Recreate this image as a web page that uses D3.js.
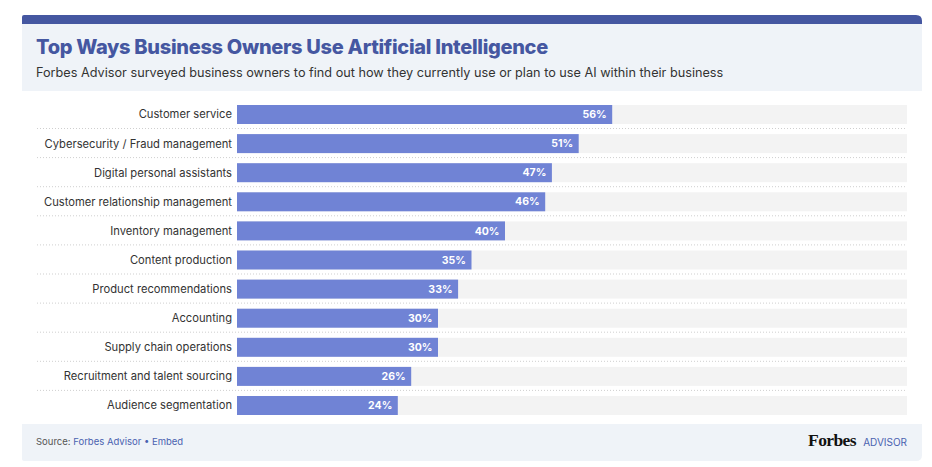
<!DOCTYPE html>
<html>
<head>
<meta charset="utf-8">
<script src="https://cdn.jsdelivr.net/npm/d3@7"></script>
<style>
  body { margin: 0; background: #fff; }
  svg { display: block; font-family: "Inter", "Lato", sans-serif; }
</style>
</head>
<body>
<svg id="chart"></svg>
<script>
let categories = [
    'Customer service',
    'Cybersecurity / Fraud management',
    'Digital personal assistants',
    'Customer relationship management',
    'Inventory management',
    'Content production',
    'Product recommendations',
    'Accounting',
    'Supply chain operations',
    'Recruitment and talent sourcing',
    'Audience segmentation',
]
let shares = [56, 51, 47, 46, 40, 35, 33, 30, 30, 26, 24]

let title = 'Top Ways Business Owners Use Artificial Intelligence'
let subtitle = 'Forbes Advisor surveyed business owners to find out how they currently use or plan to use AI within their business'

let opts = {
    width: 932,
    height: 467,
    left: 22,
    right: 922,
    barX0: 237,
    barX1: 907,
    barTop: 105,
    rowStep: 29.1,
    barH: 19,
    navy: '#4557a1',
    pale: '#eff3f8',
    bar: '#7083d5',
    track: '#f3f3f3',
}

let svg = d3.select('#chart')
    .attr('width', opts.width)
    .attr('height', opts.height)

// header: dark strip with rounded top-right corner, then pale box
svg.append('path')
    .attr('d', `M${opts.left},24 V17 Q${opts.left},15 ${opts.left + 2},15 H${opts.right - 6} Q${opts.right},15 ${opts.right},21 V24 Z`)
    .attr('fill', opts.navy)
svg.append('rect')
    .attr('x', opts.left).attr('y', 24)
    .attr('width', opts.right - opts.left).attr('height', 67)
    .attr('fill', opts.pale)

svg.append('text')
    .attr('x', 36).attr('y', 54)
    .attr('fill', opts.navy)
    .attr('font-size', 20)
    .attr('font-weight', 800)
    .attr('letter-spacing', -0.3)
    .text(title)

svg.append('text')
    .attr('x', 36).attr('y', 77)
    .attr('fill', '#333')
    .attr('font-size', 12.7)
    .text(subtitle)

// scales
let n = categories.length
let x = d3.scaleLinear().domain([0, 100]).range([opts.barX0, opts.barX1])
let y = d3.scaleBand()
    .domain(categories)
    .range([opts.barTop, opts.barTop + opts.rowStep * (n - 1) + opts.barH])
    .paddingInner(1 - opts.barH / opts.rowStep)
    .paddingOuter(0)

let rows = svg.selectAll('g.row')
    .data(categories.map((c, i) => ({ name: c, value: shares[i] })))
    .enter().append('g')
    .attr('class', 'row')
    .attr('transform', d => `translate(0,${y(d.name)})`)

rows.append('rect')
    .attr('x', x(0))
    .attr('width', x(100) - x(0))
    .attr('height', y.bandwidth())
    .attr('fill', opts.track)

rows.append('rect')
    .attr('x', x(0))
    .attr('width', d => x(d.value) - x(0))
    .attr('height', y.bandwidth())
    .attr('fill', opts.bar)

rows.append('text')
    .attr('x', d => x(d.value) - 5.5)
    .attr('y', y.bandwidth() / 2)
    .attr('dy', '0.35em')
    .attr('text-anchor', 'end')
    .attr('fill', '#fff')
    .attr('font-size', 10.5)
    .attr('font-weight', 700)
    .text(d => d.value + '%')

rows.append('text')
    .attr('x', opts.barX0 - 5)
    .attr('y', y.bandwidth() / 2)
    .attr('dy', '0.35em')
    .attr('text-anchor', 'end')
    .attr('fill', '#333')
    .attr('font-size', 11.2)
    .text(d => d.name)

// dotted separators between rows
rows.filter((d, i) => i < n - 1)
    .append('line')
    .attr('x1', 37).attr('x2', opts.barX1)
    .attr('y1', y.bandwidth() + 4.5).attr('y2', y.bandwidth() + 4.5)
    .attr('stroke', '#cfcfcf')
    .attr('stroke-width', 1)
    .attr('stroke-dasharray', '1,2')

// footer
svg.append('path')
    .attr('d', `M${opts.left},424 H${opts.right} V455 Q${opts.right},461 ${opts.right - 6},461 H${opts.left + 2} Q${opts.left},461 ${opts.left},459 Z`)
    .attr('fill', opts.pale)

let src = svg.append('text')
    .attr('x', 36).attr('y', 445)
    .attr('font-size', 9.5)
    .attr('fill', '#555')
src.append('tspan').text('Source: ')
src.append('tspan').attr('fill', '#4a62b0').text('Forbes Advisor \u2022 Embed')

svg.append('text')
    .attr('x', 856).attr('y', 446)
    .attr('text-anchor', 'end')
    .attr('font-family', '"Liberation Serif", serif')
    .attr('font-weight', 700)
    .attr('font-size', 17.5)
    .attr('letter-spacing', -0.6)
    .attr('fill', '#111')
    .text('Forbes')

svg.append('text')
    .attr('x', 907).attr('y', 446)
    .attr('text-anchor', 'end')
    .attr('font-size', 10)
    .attr('fill', '#4a62b0')
    .text('ADVISOR')
</script>
</body>
</html>
